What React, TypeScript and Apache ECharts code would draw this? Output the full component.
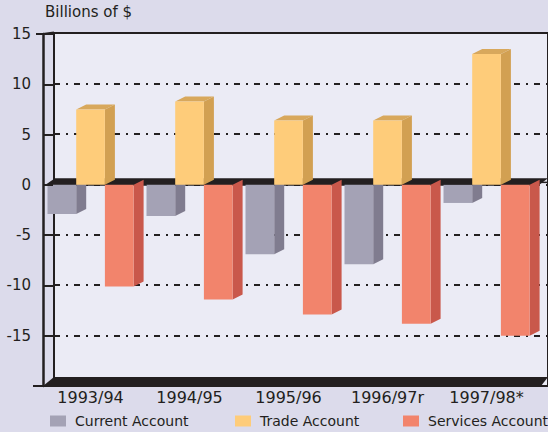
import React, { useEffect, useRef } from "react";
import * as echarts from "echarts";

const categories = ["1993/94", "1994/95", "1995/96", "1996/97r", "1997/98*"];
const currentAccount = [-2.9, -3.1, -6.9, -7.9, -1.8];
const tradeAccount = [7.5, 8.3, 6.4, 6.4, 13.0];
const servicesAccount = [-10.1, -11.4, -12.9, -13.8, -15.0];
const seriesNames = ["Current Account", "Trade Account", "Services Account"];
const yMin = -20;
const yMax = 15;
const yStep = 5;

const INK = "#231f20";
const FONT = "DejaVu Sans";

const palette = [
  { front: "#a4a2b5", side: "#807c8f", top: "#8f8ca0" },
  { front: "#fecc7a", side: "#d2a052", top: "#d8a85c" },
  { front: "#f2846c", side: "#c9584b", top: "#d66a58" },
];

const BW = 28.7; // bar front width
const DX = 10; // depth x
const DY = 5; // depth y

function makeBarSeries(idx: number, values: number[]) {
  const col = palette[idx];
  return {
    type: "custom",
    name: seriesNames[idx],
    xAxisIndex: 0,
    yAxisIndex: 0,
    z: 5,
    itemStyle: { color: col.front },
    data: values.map((v, i) => [i, v]),
    renderItem: (params: any, api: any) => {
      const ci = api.value(0);
      const v = api.value(1);
      const [cx, yv] = api.coord([ci, v]);
      const y0 = api.coord([ci, 0])[1];
      const x0 = cx - 43 + idx * BW;
      const top = Math.min(y0, yv);
      const bot = Math.max(y0, yv);
      const children: any[] = [];
      children.push({
        type: "polygon",
        shape: {
          points: [
            [x0 + BW, top],
            [x0 + BW + DX, top - DY],
            [x0 + BW + DX, bot - DY],
            [x0 + BW, bot],
          ],
        },
        style: { fill: col.side },
      });
      if (v > 0) {
        children.push({
          type: "polygon",
          shape: {
            points: [
              [x0, yv],
              [x0 + DX, yv - DY],
              [x0 + BW + DX, yv - DY],
              [x0 + BW, yv],
            ],
          },
          style: { fill: col.top },
        });
      }
      children.push({
        type: "rect",
        shape: { x: x0, y: top, width: BW, height: bot - top },
        style: { fill: col.front },
      });
      return { type: "group", children };
    },
  };
}

const decorSeries = {
  type: "custom",
  name: "decor",
  xAxisIndex: 0,
  yAxisIndex: 0,
  z: 3,
  silent: true,
  data: [[0, 0]],
  renderItem: (params: any, api: any) => {
    const cs = params.coordSys;
    const left = cs.x;
    const yb = cs.y + cs.height;
    const yt = cs.y;
    const y0 = api.coord([0, 0])[1];
    const ax = left + 2;
    return {
      type: "group",
      children: [
        {
          type: "polygon",
          shape: {
            points: [
              [ax + 1, y0 + 1],
              [ax + 12, y0 - 6.5],
              [548, y0 - 6.5],
              [538, y0 + 1],
            ],
          },
          style: { fill: INK },
        },
        {
          type: "line",
          shape: { x1: 530, y1: y0 - 2.5, x2: 548, y2: y0 - 2.5 },
          style: { stroke: INK, lineWidth: 1.5 },
        },
        {
          type: "polygon",
          shape: {
            points: [
              [ax, yb],
              [ax + 11, yb - 9],
              [548, yb - 9],
              [541, yb],
            ],
          },
          style: { fill: INK },
        },
        {
          type: "line",
          shape: { x1: 33, y1: yb, x2: 541, y2: yb },
          style: { stroke: INK, lineWidth: 2 },
        },
        {
          type: "line",
          shape: { x1: 36, y1: yt, x2: ax, y2: yt },
          style: { stroke: INK, lineWidth: 2 },
        },
        {
          type: "line",
          shape: { x1: ax, y1: yt, x2: ax + 11, y2: yt - 1.5 },
          style: { stroke: INK, lineWidth: 2 },
        },
      ],
    };
  },
};

export default function App() {
  const ref = useRef<HTMLDivElement>(null);
  useEffect(() => {
    if (!ref.current) return;
    document.body.style.margin = "0";
    const chart = echarts.init(ref.current, null, { renderer: "svg" });
    const legendCommon = {
      top: 414,
      padding: 0,
      itemWidth: 16,
      itemHeight: 11,
      icon: "rect",
      textStyle: {
        fontFamily: FONT,
        fontSize: 14,
        color: INK,
        padding: [0, 0, 0, 4],
      },
    };
    chart.setOption({
      animation: false,
      backgroundColor: "#dcdbeb",
      textStyle: { fontFamily: FONT },
      title: {
        text: "Billions of $",
        left: 45,
        top: 4,
        padding: 0,
        textStyle: {
          fontFamily: FONT,
          fontSize: 15,
          fontWeight: "normal",
          color: INK,
        },
      },
      legend: [
        { ...legendCommon, left: 50, data: [seriesNames[0]] },
        { ...legendCommon, left: 235, data: [seriesNames[1]] },
        { ...legendCommon, left: 403, data: [seriesNames[2]] },
      ],
      grid: [
        { left: 41, top: 34, width: 495, height: 352 },
        {
          left: 54,
          top: 33,
          right: 0,
          bottom: 46,
          show: true,
          backgroundColor: "#ebebf5",
          borderColor: INK,
          borderWidth: 2,
          z: 0,
        },
      ],
      xAxis: [
        {
          type: "category",
          gridIndex: 0,
          data: categories,
          axisLine: { show: false },
          axisTick: { show: false },
          splitLine: { show: false },
          axisLabel: {
            fontFamily: FONT,
            fontSize: 16,
            color: INK,
            margin: 3,
          },
        },
        { type: "value", gridIndex: 1, show: false },
      ],
      yAxis: [
        {
          type: "value",
          gridIndex: 0,
          min: yMin,
          max: yMax,
          interval: yStep,
          offset: -2,
          z: 6,
          axisLine: { show: true, lineStyle: { color: INK, width: 2.5 } },
          axisTick: {
            show: true,
            inside: true,
            length: 10,
            lineStyle: { color: INK, width: 2 },
          },
          splitLine: { show: false },
          axisLabel: {
            fontFamily: FONT,
            fontSize: 15,
            color: INK,
            margin: 12,
            verticalAlign: "middle",
            padding: [0, 0, 10, 0],
            formatter: (v: number) => (v === yMin ? "" : String(v)),
          },
        },
        {
          type: "value",
          gridIndex: 1,
          min: yMin,
          max: yMax,
          interval: yStep,
          axisLine: { show: false },
          axisTick: { show: false },
          axisLabel: { show: false },
          splitLine: {
            show: true,
            lineStyle: { color: INK, width: 2, type: [6, 6, 2, 6] },
          },
        },
      ],
      series: [
        decorSeries,
        makeBarSeries(0, currentAccount),
        makeBarSeries(1, tradeAccount),
        makeBarSeries(2, servicesAccount),
      ],
    });
    return () => chart.dispose();
  }, []);
  return (
    <div
      ref={ref}
      style={{ position: "fixed", left: 0, top: 0, width: 548, height: 432 }}
    />
  );
}
